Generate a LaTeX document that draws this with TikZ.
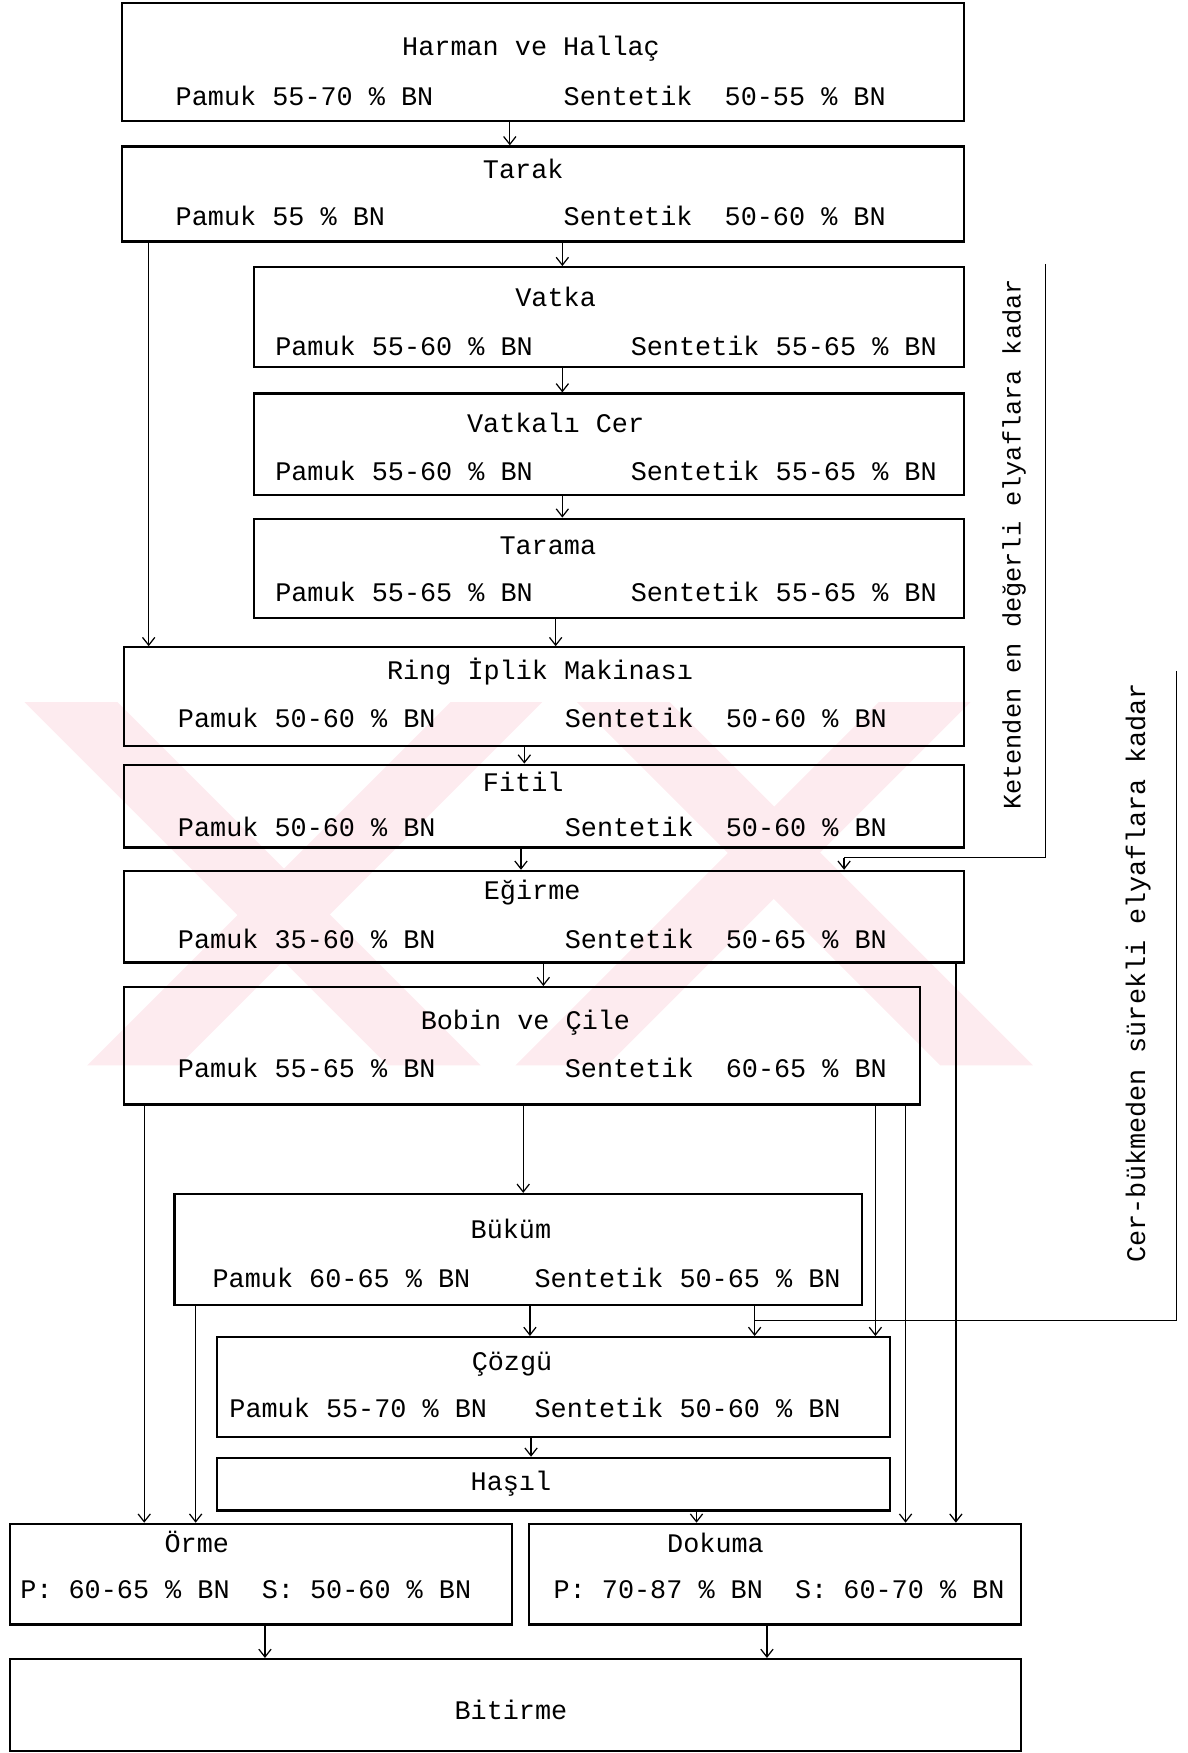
\documentclass[tikz,border=0pt]{standalone}
\usepackage{fontspec}
\newfontfamily\tw{Liberation Mono}
\usetikzlibrary{arrows.meta}
\definecolor{wm}{RGB}{253,235,239}
\tikzset{
  box/.style={draw, line width=2pt, rectangle, inner sep=0pt, anchor=north west},
  lbl/.style={font=\tw\fontsize{24}{28}\selectfont, inner sep=0pt},
  ttl/.style={lbl, anchor=base},
  val/.style={lbl, anchor=base west},
  arr/.style={line width=1.1pt, -{Straight Barb[length=7pt,width=11pt]}},
  link/.style={line width=1.1pt},
  vlbl/.style={rotate=90, inner sep=0pt},
}
\begin{document}
\begin{tikzpicture}[x=1pt,y=-1pt]
\useasboundingbox (0,0) rectangle (1062,1568);
% watermark
\fill[wm] (22,628) -- (105,628) -- (430,953) -- (347,953) -- cycle;
\fill[wm] (78,953) -- (160,953) -- (485,628) -- (403,628) -- cycle;
\fill[wm] (516,628) -- (599,628) -- (924,953) -- (841,953) -- cycle;
\fill[wm] (461,953) -- (543,953) -- (868,628) -- (786,628) -- cycle;

% x positions
\foreach \n/\v in {x129/129,x133/133,x175/175,x237/237,x456/456,x466/466,x468/468,x469/469,x474/474,x475/475,x486/486,x497/497,x503/503,x623/623,x686/686,x783/783,x810/810,x855/855}
  \coordinate (\n) at (\v,0);

% stages
\node[box, minimum width=753pt, minimum height=105pt] (harman) at (108,2) {};
\node[ttl] (harman-t) at (475,50) {Harman ve Hallaç};
\node[val] (harman-p) at (157,94) {Pamuk 55-70 \% BN};
\node[val] (harman-s) at (504,94) {Sentetik\ \ 50-55 \% BN};

\node[box, minimum width=753pt, minimum height=85pt] (tarak) at (108,130) {};
\node[ttl] (tarak-t) at (468,160) {Tarak};
\node[val] (tarak-p) at (157,202) {Pamuk 55 \% BN};
\node[val] (tarak-s) at (504,202) {Sentetik\ \ 50-60 \% BN};

\node[box, minimum width=635pt, minimum height=89pt] (vatka) at (226,238) {};
\node[ttl] (vatka-t) at (497,274) {Vatka};
\node[val] (vatka-p) at (246,318) {Pamuk 55-60 \% BN};
\node[val] (vatka-s) at (564,318) {Sentetik 55-65 \% BN};

\node[box, minimum width=635pt, minimum height=91pt] (vcer) at (226,351) {};
\node[ttl] (vcer-t) at (497,387) {Vatkalı Cer};
\node[val] (vcer-p) at (246,430) {Pamuk 55-60 \% BN};
\node[val] (vcer-s) at (564,430) {Sentetik 55-65 \% BN};

\node[box, minimum width=635pt, minimum height=89pt] (tarama) at (226,463) {};
\node[ttl] (tarama-t) at (490,496) {Tarama};
\node[val] (tarama-p) at (246,538) {Pamuk 55-65 \% BN};
\node[val] (tarama-s) at (564,538) {Sentetik 55-65 \% BN};

\node[box, minimum width=751pt, minimum height=88pt] (ring) at (110,578) {};
\node[ttl] (ring-t) at (483,608) {Ring İplik Makinası};
\node[val] (ring-p) at (159,651) {Pamuk 50-60 \% BN};
\node[val] (ring-s) at (505,651) {Sentetik\ \ 50-60 \% BN};

\node[box, minimum width=751pt, minimum height=74pt] (fitil) at (110,683) {};
\node[ttl] (fitil-t) at (468,708) {Fitil};
\node[val] (fitil-p) at (159,748) {Pamuk 50-60 \% BN};
\node[val] (fitil-s) at (505,748) {Sentetik\ \ 50-60 \% BN};

\node[box, minimum width=751pt, minimum height=82pt] (egirme) at (110,778) {};
\node[ttl] (egirme-t) at (476,805) {Eğirme};
\node[val] (egirme-p) at (159,848) {Pamuk 35-60 \% BN};
\node[val] (egirme-s) at (505,848) {Sentetik\ \ 50-65 \% BN};

\node[box, minimum width=712pt, minimum height=105pt] (bobin) at (110,882) {};
\node[ttl] (bobin-t) at (470,921) {Bobin ve Çile};
\node[val] (bobin-p) at (159,964) {Pamuk 55-65 \% BN};
\node[val] (bobin-s) at (505,964) {Sentetik\ \ 60-65 \% BN};

\node[box, minimum width=615pt, minimum height=99pt] (bukum) at (155,1067) {};
\node[ttl] (bukum-t) at (457,1108) {Büküm};
\node[val] (bukum-p) at (190,1152) {Pamuk 60-65 \% BN};
\node[val] (bukum-s) at (478,1152) {Sentetik 50-65 \% BN};

\node[box, minimum width=602pt, minimum height=89pt] (cozgu) at (193,1195) {};
\node[ttl] (cozgu-t) at (458,1226) {Çözgü};
\node[val] (cozgu-p) at (205,1268) {Pamuk 55-70 \% BN};
\node[val] (cozgu-s) at (478,1268) {Sentetik 50-60 \% BN};

\node[box, minimum width=602pt, minimum height=47pt] (hasil) at (193,1303) {};
\node[ttl] (hasil-t) at (457,1333) {Haşıl};

\node[box, minimum width=449pt, minimum height=90pt] (orme) at (8,1362) {};
\node[ttl] (orme-t) at (176,1389) {Örme};
\node[val] (orme-v) at (18,1430) {P: 60-65 \% BN\ \ S: 50-60 \% BN};

\node[box, minimum width=440pt, minimum height=90pt] (dokuma) at (472,1362) {};
\node[ttl] (dokuma-t) at (640,1389) {Dokuma};
\node[val] (dokuma-v) at (495,1430) {P: 70-87 \% BN\ \ S: 60-70 \% BN};

\node[box, minimum width=904pt, minimum height=82pt] (bitirme) at (8,1483) {};
\node[ttl] (bitirme-t) at (457,1538) {Bitirme};

% side labels
\node[vlbl, font=\tw\fontsize{22.6}{26}\selectfont] (keten) at (907,487) {Ketenden en değerli elyaflara kadar};
\node[vlbl, font=\tw\fontsize{24}{28}\selectfont] (cerbuk) at (1018,870) {Cer-bükmeden sürekli elyaflara kadar};

% connectors
\draw[arr] (harman.south -| x456) -- (tarak.north -| x456);
\draw[arr] (tarak.south -| x503) -- (vatka.north -| x503);
\draw[arr] (tarak.south -| x133) -- (ring.north -| x133);
\draw[arr] (vatka.south -| x503) -- (vcer.north -| x503);
\draw[arr] (vcer.south -| x503) -- (tarama.north -| x503);
\draw[arr] (tarama.south -| x497) -- (ring.north -| x497);
\draw[arr] (ring.south -| x469) -- (fitil.north -| x469);
\draw[arr] (fitil.south -| x466) -- (egirme.north -| x466);
\draw[arr] (egirme.south -| x486) -- (bobin.north -| x486);
\draw[arr] (egirme.south -| x855) -- (dokuma.north -| x855);
\draw[arr] (bobin.south -| x129) -- (orme.north -| x129);
\draw[arr] (bobin.south -| x468) -- (bukum.north -| x468);
\draw[arr] (bobin.south -| x783) -- (cozgu.north -| x783);
\draw[arr] (bobin.south -| x810) -- (dokuma.north -| x810);
\draw[arr] (bukum.south -| x175) -- (orme.north -| x175);
\draw[arr] (bukum.south -| x474) -- (cozgu.north -| x474);
\draw[arr] (cozgu.south -| x475) -- (hasil.north -| x475);
\draw[arr] (hasil.south -| x623) -- (dokuma.north -| x623);
\draw[arr] (orme.south -| x237) -- (bitirme.north -| x237);
\draw[arr] (dokuma.south -| x686) -- (bitirme.north -| x686);

% brackets
\coordinate (kTop) at (935,236);
\coordinate (kBot) at (935,767);
\coordinate (kEnd) at (755,767);
\draw[link] (kTop) -- (kBot) -- (kEnd);
\draw[arr] (kEnd) -- (egirme.north -| kEnd);
\coordinate (cTop) at (1052,600);
\coordinate (cBot) at (1052,1181);
\coordinate (cEnd) at (675,1181);
\draw[link] (cTop) -- (cBot) -- (cEnd);
\draw[arr] (bukum.south -| cEnd) -- (cozgu.north -| cEnd);
\end{tikzpicture}
\end{document}
